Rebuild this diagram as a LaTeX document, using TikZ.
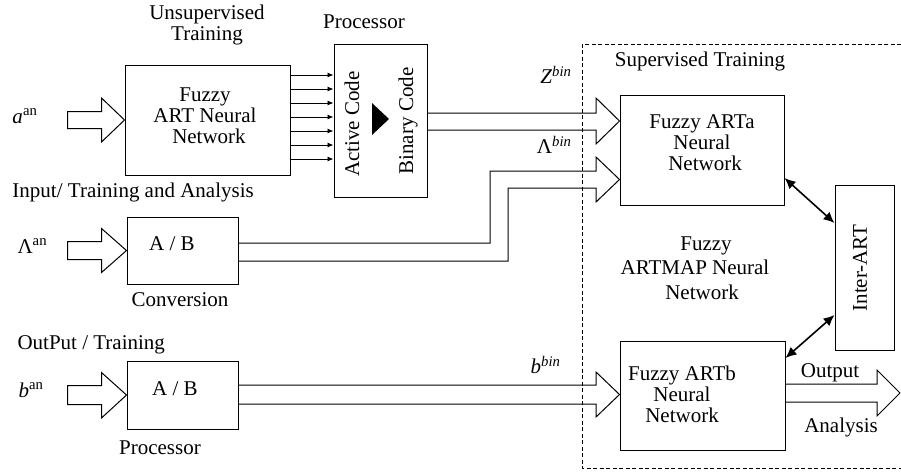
\documentclass[tikz,border=0pt]{standalone}
\usepackage{fontspec}
\setmainfont{Liberation Serif}
\usetikzlibrary{arrows.meta,calc}
\begin{document}
\begin{tikzpicture}[x=1pt,y=-1pt,line width=1pt,
  box/.style={draw,inner sep=0pt},
  txt/.style={font=\fontsize{21}{21}\selectfont,inner sep=0pt,align=center},
  smallarr/.style={-{Latex[length=6pt,width=5pt]},line width=0.9pt},
  dblarr/.style={{Latex[length=11pt,width=10pt]}-{Latex[length=11pt,width=10pt]},line width=1.6pt},
  dashbox/.style={dash pattern=on 4pt off 2.5pt,line width=1pt}]
\useasboundingbox (0,0) rectangle (901,472);

% boxes
\node[box,minimum width=165pt,minimum height=110pt] (art) at (207.5,120) {};
\node[box,minimum width=93pt,minimum height=153pt] (proc) at (380.5,120.5) {};
\node[box,minimum width=111pt,minimum height=67pt] (conv) at (182.5,250.5) {};
\node[box,minimum width=111pt,minimum height=68pt] (proc2) at (182.5,395) {};
\node[box,minimum width=164pt,minimum height=110pt] (artA) at (702,150) {};
\node[box,minimum width=165pt,minimum height=109pt] (artB) at (702.5,395.5) {};
\node[box,minimum width=59pt,minimum height=165pt] (inter) at (864.5,267.5) {};

% texts in boxes
\node[txt] (artT) at (205,116) {Fuzzy\\ART Neural\\\hspace*{8pt}Network};
\node[txt,rotate=90] (actT) at (352,124) {Active Code};
\node[txt,rotate=90] (binT) at (408,121) {Binary Code};
\node[txt] (convT) at (172,244) {A / B};
\node[txt] (proc2T) at (175,389) {A / B};
\node[txt] (artAT) at (702,143) {Fuzzy ARTa\\Neural\\\hspace*{6pt}Network};
\node[txt] (artBT) at (682,394) {Fuzzy ARTb\\Neural\\Network};
\node[txt,rotate=90] (interT) at (860,268) {Inter-ART};

% free labels
\node[txt] (unsup) at (207,25) {Unsupervised\\Training};
\node[txt] (procL) at (364,22) {Processor};
\node[txt,anchor=west] (inputL) at (12,192) {Input/ Training and Analysis};
\node[txt,anchor=west] (aan) at (12,116) {\textit{a}\textsuperscript{an}};
\node[txt,anchor=west] (lan) at (17,246) {Λ\textsuperscript{an}};
\node[txt,anchor=west] (ban) at (18,390) {\textit{b}\textsuperscript{an}};
\node[txt] (convL) at (180,300) {Conversion};
\node[txt,anchor=west] (outL) at (17,345) {OutPut / Training};
\node[txt] (proc2L) at (160,448) {Processor};
\node[txt,anchor=east] (zbin) at (572,75) {\textit{Z}\textsuperscript{\textit{bin}}};
\node[txt,anchor=east] (lbin) at (572,145) {Λ\textsuperscript{\textit{bin}}};
\node[txt,anchor=east] (bbin) at (561,365) {\textit{b}\textsuperscript{\textit{bin}}};
\node[txt] (supL) at (700,61) {Supervised Training};
\node[txt,font=\fontsize{21}{24.5}\selectfont] (artmap) at (695,268) {\hspace*{22pt}Fuzzy\\ARTMAP Neural\\\hspace*{14pt}Network};
\node[txt] (outputL) at (830,373) {Output};
\node[txt] (analysisL) at (841,427) {Analysis};

% dashed supervised region
\draw[dashbox] (901,44) -- (582,44) -- (582,468) -- (901,468);

% hollow input arrows
\draw (art.west) -- ++(-23,-22) -- ++(0,13.5) -- ++(-34,0) -- ++(0,17) -- ++(34,0) -- ++(0,13.5) -- cycle;
\draw (conv.west) -- ++(-25,-22) -- ++(0,13) -- ++(-34,0) -- ++(0,18) -- ++(34,0) -- ++(0,13) -- cycle;
\draw (proc2.west) -- ++(-25,-22.5) -- ++(0,13) -- ++(-34,0) -- ++(0,19) -- ++(34,0) -- ++(0,13.5) -- cycle;

% code lines art -> processor
\foreach \yy in {75,89,103,117,131,145,159}
  \draw[smallarr] (art.east |- 0,\yy) -- (proc.west |- 0,\yy);

% triangle in processor
\fill (372,103) -- (389,119) -- (372,135) -- cycle;

% processor -> ARTa
\draw (proc.east |- 0,113) -- (596,113) -- (596,98) -- (artA.west |- 0,121) -- (596,144) -- (596,130) -- (proc.east |- 0,130);
% conversion -> ARTa
\draw (conv.east |- 0,243) -- (490,243) -- (490,171) -- (596,171) -- (596,157) -- (artA.west |- 0,179.5) -- (596,202) -- (596,188) -- (508,188) -- (508,261) -- (conv.east |- 0,261);
% processor2 -> ARTb
\draw (proc2.east |- 0,385) -- (596,385) -- (596,372) -- (artB.west |- 0,394.5) -- (596,417) -- (596,404) -- (proc2.east |- 0,404);
% ARTb -> output
\coordinate (outtip) at (900,393);
\draw (artB.east |- 0,384) -- (877,384) -- (877,370) -- (outtip) -- (877,416) -- (877,402) -- (artB.east |- 0,402);

% inter-ART links
\draw[dblarr] (artA.east |- 0,178) -- (inter.west |- 0,223);
\draw[dblarr] (inter.west |- 0,315) -- (artB.east |- 0,358);
\end{tikzpicture}
\end{document}
